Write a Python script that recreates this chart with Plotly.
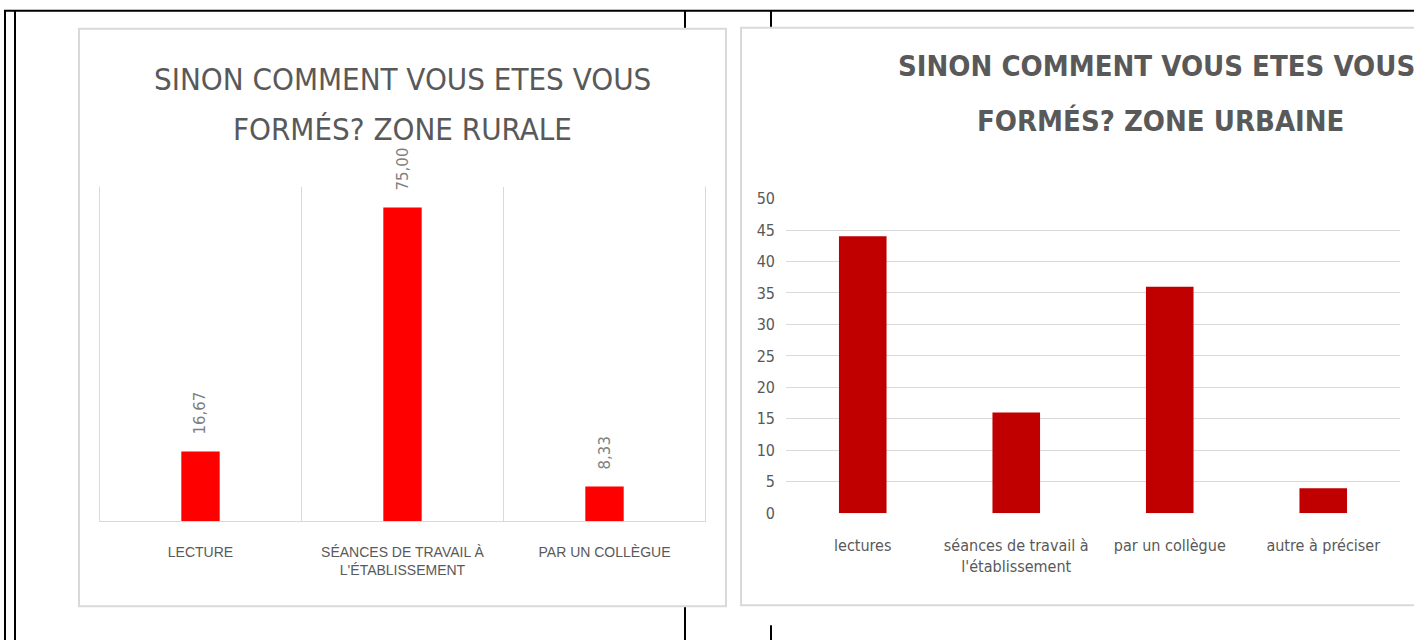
import plotly.graph_objects as go

# ---- data ----
rural_categories = ["LECTURE", "SÉANCES DE TRAVAIL À<br>L'ÉTABLISSEMENT", "PAR UN COLLÈGUE"]
rural_values = [16.67, 75.00, 8.33]
rural_title = ["SINON COMMENT VOUS ETES VOUS", "FORMÉS? ZONE RURALE"]

urban_categories = ["lectures", "séances de travail à<br>l'établissement", "par un collègue", "autre à préciser"]
urban_values = [44, 16, 36, 4]
urban_ticks = list(range(0, 51, 5))
urban_title = ["SINON COMMENT VOUS ETES VOUS", "FORMÉS? ZONE URBAINE"]

# page geometry (compensates for how the page is captured)
FW, FH = 1414, 650
SY, OY = 0.9715, 8.3
def px(x):
    return x / FW
def py(y):
    return 1 - ((y - OY) / SY) / FH

COND = "DejaVu Sans Condensed, DejaVu Sans, sans-serif"
GRAY = "#595959"
GRID = "#d9d9d9"

fig = go.Figure()
fig.add_trace(go.Bar(x=rural_categories, y=rural_values, xaxis="x", yaxis="y",
                     marker=dict(color="#ff0000", line=dict(width=0)), width=0.19,
                     hoverinfo="x+y"))
fig.add_trace(go.Bar(x=urban_categories, y=urban_values, xaxis="x2", yaxis="y2",
                     marker=dict(color="#c00000", line=dict(width=0)), width=0.31,
                     hoverinfo="x+y"))

# data labels on rural chart
for c, v in zip(rural_categories, rural_values):
    fig.add_annotation(x=c, y=v, xref="x", yref="y", text=f"{v:.2f}".replace(".", ","),
                       textangle=-90, yanchor="bottom", xanchor="center", yshift=15,
                       showarrow=False, font=dict(size=15, color="#7f7f7f", family="DejaVu Sans"))

# titles
for t, yy in zip(rural_title, [78, 128]):
    fig.add_annotation(x=px(402), y=py(yy), xref="paper", yref="paper", text=t, showarrow=False,
                       xanchor="center", yanchor="middle",
                       font=dict(size=31, color=GRAY, family=COND))
for t, xx, yy in zip(urban_title, [1156, 1160], [65, 120]):
    fig.add_annotation(x=px(xx), y=py(yy), xref="paper", yref="paper", text=t, showarrow=False,
                       xanchor="center", yanchor="middle",
                       font=dict(size=29, color=GRAY, family=COND, weight=700))

shapes = []
# table lines
line = dict(color="black", width=2)
shapes.append(dict(type="line", xref="paper", yref="paper", x0=px(4), x1=1, y0=py(10), y1=py(10), line=line, layer="below"))
shapes.append(dict(type="line", xref="paper", yref="paper", x0=px(5), x1=px(5), y0=py(10), y1=0, line=line, layer="below"))
shapes.append(dict(type="line", xref="paper", yref="paper", x0=px(15), x1=px(15), y0=py(10), y1=0, line=line, layer="below"))
for (xx, a, b) in [(685, 10, 29), (685, 606, 645), (771, 10, 27), (771, 625, 645)]:
    shapes.append(dict(type="line", xref="paper", yref="paper", x0=px(xx), x1=px(xx), y0=py(a), y1=max(py(b), 0), line=line, layer="below"))
# chart frames
shapes.append(dict(type="rect", xref="paper", yref="paper", x0=px(79), x1=px(726), y0=py(606), y1=py(28),
                   line=dict(color=GRID, width=2), fillcolor="white", layer="below"))
shapes.append(dict(type="rect", xref="paper", yref="paper", x0=px(741), x1=px(1425), y0=py(605), y1=py(27),
                   line=dict(color=GRID, width=2), fillcolor="white", layer="below"))
# category boundary lines at the outer edges of the rural plot
for xb in [-0.5, len(rural_categories) - 0.5]:
    shapes.append(dict(type="line", xref="x", yref="y domain", x0=xb, x1=xb, y0=0, y1=1,
                       line=dict(color=GRID, width=1), layer="below"))

fig.update_layout(
    width=FW, height=FH, margin=dict(l=0, r=0, t=0, b=0),
    paper_bgcolor="white", plot_bgcolor="rgba(0,0,0,0)",
    showlegend=False, shapes=shapes,
    xaxis=dict(domain=[px(99), px(706)], anchor="y", tickson="boundaries", showgrid=True,
               gridcolor=GRID, gridwidth=1, showline=True, linecolor=GRID, linewidth=1,
               ticks="", tickfont=dict(size=14, color=GRAY, family="Liberation Sans, sans-serif"),
               ticklabelstandoff=18, fixedrange=True),
    yaxis=dict(domain=[py(521), py(186)], anchor="x", range=[0, 80], showticklabels=False,
               showgrid=False, zeroline=False, fixedrange=True),
    xaxis2=dict(domain=[px(786), px(1400)], anchor="y2", showline=False, ticks="",
                tickfont=dict(size=16, color=GRAY, family=COND), ticklabelstandoff=21, fixedrange=True),
    yaxis2=dict(domain=[py(513), py(198)], anchor="x2", range=[0, 50], tickvals=urban_ticks,
                showgrid=True, gridcolor=GRID, gridwidth=1, zeroline=False, showline=False,
                tickfont=dict(size=16, color=GRAY, family=COND), ticklabelstandoff=10, fixedrange=True),
)

fig.write_html("out.html", config={"displayModeBar": False},
               post_script="document.body.style.margin='0';")
